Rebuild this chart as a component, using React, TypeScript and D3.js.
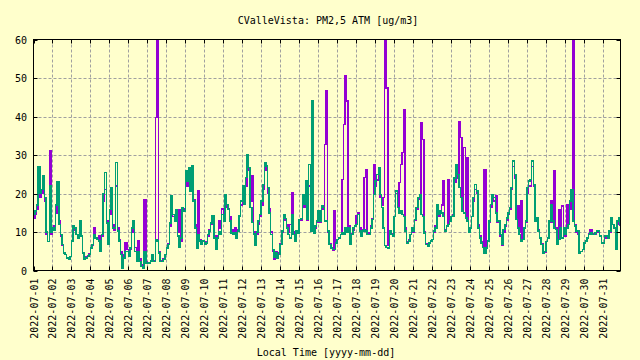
import React from "react";
import * as d3 from "d3";

// Sampling: 2-hour steps starting 2022-07-01 00:00 local
const startTime = Date.UTC(2022, 6, 1);
const stepHours = 2;
const xDomainDays = 30.93;

const yTicks = [0, 10, 20, 30, 40, 50, 60];

// Channel B (teal)
const channelB = [
  14.5, 15.5, 17, 27, 20, 21, 24.5, 19, 10, 7.5, 22, 10,
  11, 10.5, 17, 23, 12, 9.4, 6.8, 4.6, 4.2, 3.3, 2.9, 3.7,
  7.6, 11.5, 11, 9.4, 8.5, 12.8, 9, 4.6, 2.9, 3.3, 3.6, 4.2,
  5.9, 6.8, 9.4, 8.5, 8, 7.6, 5, 9.4, 20, 25.4, 12.4, 6.8,
  15.8, 21.5, 11.1, 11, 28, 10.2, 7.6, 4.2, 0.7, 3.3, 5, 5,
  3.7, 5.9, 11, 12.8, 5, 2.4, 5, 2.4, 1.1, 0.7, 5, 2,
  2, 2, 2.5, 4.2, 2.4, 8, 7.6, 4.6, 2.4, 2.4, 2.9, 4.2,
  5.9, 6.8, 12.4, 19.3, 14.5, 12.8, 15.8, 9, 6, 8.5, 16.3, 15.4,
  25.8, 23.2, 26.7, 20.6, 27.1, 18, 11.1, 5.9, 9.4, 7.6, 6.8, 7.6,
  6.8, 7.2, 9.4, 10.2, 12.4, 14.1, 8.5, 5.5, 8.5, 10, 9.4, 14.5,
  12.8, 19.7, 17.1, 15.8, 12.8, 9.8, 9.4, 9.8, 8.5, 10.2, 14.1, 18,
  22, 17.1, 24.1, 30.1, 26.7, 16.3, 12.5, 9.5, 6.5, 10, 12.8, 14.5,
  18, 22.3, 28, 27.1, 21.5, 15, 9.4, 5.5, 3.5, 4.6, 3.3, 4.2,
  6.8, 10.2, 14.5, 13.5, 11.1, 9.4, 8.5, 14.5, 9.4, 7.6, 10.2, 9.8,
  13.2, 13.5, 19.7, 17.1, 23.2, 13.2, 27.5, 10.2, 44, 9.8, 11.5, 12.8,
  15.4, 12.8, 16.7, 16.3, 12.8, 13, 10.2, 6.8, 5.9, 5.5, 5.5, 7.2,
  8, 8.5, 9.4, 9.8, 9.5, 11, 10, 11, 6.8, 9.4, 11, 11.5,
  12, 14.5, 10.2, 8.9, 10.2, 10.5, 10.2, 9.4, 9.4, 11.1, 13.2, 19.7,
  23.2, 24.9, 26.7, 19.7, 16.3, 11, 6.5, 6, 5.9, 10.2, 9.4, 9,
  14, 20.6, 16.3, 15, 15.5, 14.5, 14, 10.2, 7.2, 7.6, 9.4, 11.1,
  10.2, 13.2, 16.3, 18.9, 19.7, 14.5, 14, 9.8, 6.8, 6.3, 7.2, 7.6,
  8, 10.2, 11.1, 17, 14.5, 15.4, 15, 14, 10.2, 11.5, 12, 12.8,
  14, 14.1, 24, 27.5, 24.9, 21.5, 18.9, 15.4, 15, 13.7, 12.8, 10,
  11.1, 14, 18.9, 22.3, 20.6, 11.1, 8.5, 7.2, 6, 4.6, 5.9, 7.6,
  12.8, 17.1, 19.7, 18.9, 15, 12.8, 12.8, 9.4, 6.8, 10.6, 11.9, 13.7,
  15, 16.3, 21.5, 28.4, 25, 13.2, 11.1, 9.4, 7.6, 8, 11.1, 12.8,
  21.5, 23.2, 23.6, 28.4, 22.3, 12.8, 13.7, 10.2, 8.5, 6.8, 4.6, 5,
  7.5, 8.5, 12.8, 17.1, 12.8, 11, 10.6, 6.8, 8, 11.1, 8.5, 11.1,
  9.4, 11, 11.9, 18, 21, 12.8, 11.5, 10.2, 10.2, 4.6, 5, 5.5,
  7.2, 7.6, 8.5, 9.4, 9.8, 9.4, 9.4, 9.8, 10.2, 10.2, 8.9, 7.2,
  7.2, 8.9, 8.9, 8.5, 10.2, 13.7, 11.9, 11.1, 5.5, 12.8, 13.7, 11.9,
];

// Channel A (purple)
const channelA = [
  13.5, 14.5, 16, 24, 19, 20, 22, 18, 9.5, 7.5, 31, 9.5,
  11, 11.5, 15, 21, 13, 9, 6.5, 4.6, 4.2, 3.3, 2.9, 3.7,
  7.6, 11, 10.5, 9.4, 9, 12.5, 9, 4.6, 3, 3.5, 3.8, 4.4,
  5.9, 6.5, 11.2, 8.5, 8.5, 9, 5.5, 9, 18, 21, 13, 7,
  14.5, 20, 12, 10.5, 22, 11, 8, 5, 2, 4, 7.2, 5.5,
  3.7, 5.5, 10, 12, 6, 3, 7.6, 3, 1.5, 1, 18.4, 2.2,
  2, 2, 2.5, 4, 2.6, 39.7, 95, 5, 2.6, 2.4, 3, 4.2,
  5.9, 7, 11.5, 17, 14, 13.5, 14.5, 10, 15.8, 7.5, 15.5, 16,
  24, 22, 24, 21, 26, 18.5, 12, 6.5, 20.6, 8, 7, 7.5,
  7, 7.5, 9, 10.5, 12, 13, 9, 6, 9, 12.8, 11, 16,
  13.5, 18.5, 16.5, 16, 14, 10.5, 10, 11.1, 9, 10.5, 14, 17,
  21, 18, 22, 29, 26, 18, 24.5, 10, 7, 9.5, 12, 14,
  17, 21, 27, 26, 20, 16, 10, 5, 3, 5, 3.5, 4.5,
  7, 10, 13.5, 13, 12, 10, 12, 20.2, 10, 8, 10, 10,
  13, 13, 18, 16.5, 21, 13, 22, 11, 12, 10, 11, 12.5,
  14.5, 12.5, 16, 16, 32.7, 46.6, 10, 7, 6, 5.2, 15.4, 7,
  8, 8.5, 9.4, 23.6, 37.9, 50.5, 44, 11.5, 7, 9.5, 10.5, 11.5,
  14.1, 15, 11, 9, 10.5, 24.1, 26.2, 9.5, 9.8, 11.5, 13.5, 27.5,
  22, 23.5, 25, 19, 17, 18.9, 70, 47.4, 6.5, 10, 9.5, 9,
  14, 20, 16.5, 22.8, 27.5, 30.6, 41.8, 11, 7.5, 8, 9.4, 10.5,
  10, 13, 16, 18.5, 19, 38.4, 34, 10, 7, 6.5, 7.2, 7.6,
  8, 10, 11.5, 16, 14, 15, 17, 23.2, 10.5, 11.5, 23.6, 12.8,
  14, 14.5, 23, 27, 24, 38.6, 34.5, 16, 31.9, 14, 29.3, 10.5,
  11, 14, 18, 21, 20, 12, 9, 7.5, 6, 26.2, 6, 7.6,
  12.5, 16.5, 19, 18, 19.3, 12.5, 12.5, 9, 6.5, 10, 11.5, 13,
  14.5, 16, 21, 27, 24, 13.5, 16.7, 10, 18, 8.5, 11, 12.5,
  20, 22, 22, 27, 22, 13, 13.5, 10.5, 8.5, 7, 4.4, 4.8,
  7.5, 8.5, 12.5, 18, 12.5, 25.8, 11, 7, 15.8, 11, 16.7, 11,
  9, 17.1, 12, 16, 20, 90, 12, 10, 9.4, 5, 5, 5.5,
  7, 7.5, 8.5, 9.5, 10.6, 9.5, 9.4, 9.5, 10, 10, 9, 7,
  7, 8.5, 9, 8.5, 10, 13, 12, 11, 7, 12, 13, 11.5,
];

const W = 640;
const H = 360;
const L = 33.5;
const R = 620.5;
const T = 39.5;
const B = 270.5;
const FONT = "'DejaVu Sans Mono', 'Liberation Mono', monospace";
const BG = "#ffffcc";

export default function App() {
  const x = d3
    .scaleUtc()
    .domain([new Date(startTime), new Date(startTime + xDomainDays * 864e5)])
    .range([L, R]);
  const y = d3.scaleLinear().domain([0, 60]).range([B, T]);

  const toPts = (arr: number[]) =>
    arr.map((v, i) => ({ t: new Date(startTime + i * stepHours * 3600e3), v }));

  const line = d3
    .line<{ t: Date; v: number }>()
    .x((d) => x(d.t))
    .y((d) => y(d.v))
    .curve(d3.curveStepAfter);

  const days = d3.utcDay.range(new Date(startTime), new Date(startTime + xDomainDays * 864e5 + 1));
  const fmt = d3.utcFormat("%Y-%m-%d");

  const gridColor = "#a0a0a0";

  return (
    <svg
      width={W}
      height={H}
      style={{ position: "absolute", left: 0, top: 0, background: BG }}
      fontFamily={FONT}
      fontSize={10}
    >
      <rect x={0} y={0} width={W} height={H} fill={BG} />
      <defs>
        <clipPath id="plot">
          <rect x={L} y={T} width={R - L} height={B - T} />
        </clipPath>
      </defs>

      {/* grid */}
      {yTicks.slice(1, -1).map((v) => (
        <line
          key={"gy" + v}
          x1={L}
          x2={R}
          y1={Math.round(y(v)) + 0.5}
          y2={Math.round(y(v)) + 0.5}
          stroke={gridColor}
          strokeDasharray="3,2"
        />
      ))}
      {days.slice(1).map((d) => {
        const xx = Math.round(x(d)) + 0.5;
        return (
          <line key={"gx" + d.getTime()} x1={xx} x2={xx} y1={T} y2={B} stroke={gridColor} strokeDasharray="3,2" />
        );
      })}

      {/* series */}
      <g clipPath="url(#plot)" shapeRendering="crispEdges">
        <path d={line(toPts(channelA)) || ""} fill="none" stroke="#9400d3" strokeWidth={1.5} />
        <path d={line(toPts(channelB)) || ""} fill="none" stroke="#009e73" strokeWidth={1.5} />
      </g>

      {/* frame */}
      <rect x={L} y={T} width={R - L} height={B - T} fill="none" stroke="#000" strokeWidth={1} />

      {/* y ticks */}
      {yTicks.map((v) => {
        const yy = Math.round(y(v)) + 0.5;
        return (
          <g key={"ty" + v}>
            <line x1={L} x2={L + 4} y1={yy} y2={yy} stroke="#000" />
            <line x1={R - 4} x2={R} y1={yy} y2={yy} stroke="#000" />
            <text x={27} y={yy} dy="0.35em" textAnchor="end" fill="#000">
              {v}
            </text>
          </g>
        );
      })}

      {/* x ticks */}
      {days.map((d) => {
        const xx = Math.round(x(d)) + 0.5;
        return (
          <g key={"tx" + d.getTime()}>
            <line x1={xx} x2={xx} y1={B} y2={B - 4} stroke="#000" />
            <line x1={xx} x2={xx} y1={T} y2={T + 4} stroke="#000" />
            <text
              transform={`translate(${xx},${B + 8}) rotate(-90)`}
              dy="0.35em"
              textAnchor="end"
              fill="#000"
            >
              {fmt(d)}
            </text>
          </g>
        );
      })}

      {/* titles */}
      <text x={328} y={24} textAnchor="middle" fill="#000">
        CValleVista: PM2,5 ATM [ug/m3]
      </text>
      <text x={326} y={356} textAnchor="middle" fill="#000">
        Local Time [yyyy-mm-dd]
      </text>
    </svg>
  );
}
